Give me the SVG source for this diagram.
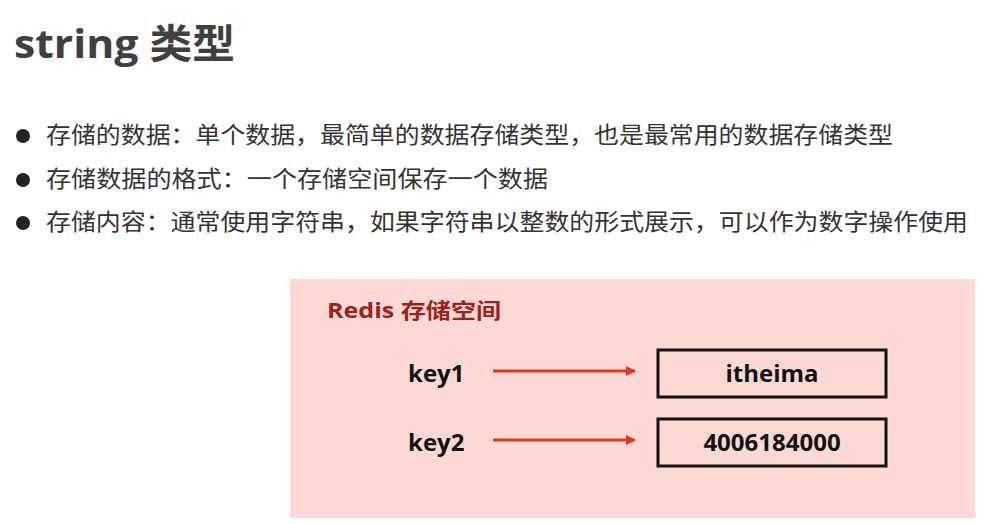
<svg xmlns="http://www.w3.org/2000/svg" width="992" height="524" viewBox="0 0 992 524">
<style>
.t{font-family:"Open Sans","Noto Sans CJK SC",sans-serif}
.b{font-family:"Noto Sans CJK SC","Noto Sans",sans-serif;font-size:23px;fill:#333}
.k{font-family:"Open Sans","Noto Sans CJK SC",sans-serif;font-weight:bold;font-size:24px;fill:#111}
.box{fill:none;stroke:#111;stroke-width:3}
.ar{stroke:#e8341c;stroke-width:3;fill:none;marker-end:url(#m)}
</style>
<defs><marker id="m" markerWidth="10" markerHeight="10" refX="9" refY="5" orient="auto" markerUnits="userSpaceOnUse"><path d="M0,0 L10,5 L0,10 Z" fill="#e8341c"/></marker></defs>
<rect width="992" height="524" fill="#fff"/>
<text x="14" y="58" class="t" font-size="40" font-weight="bold" fill="#404040" textLength="221" lengthAdjust="spacingAndGlyphs">string 类型</text>
<g fill="#222"><circle cx="23" cy="136" r="7"/><circle cx="23" cy="180" r="7"/><circle cx="23" cy="223" r="7"/></g>
<text x="46" y="143" class="b" textLength="847" lengthAdjust="spacingAndGlyphs">存储的数据：单个数据，最简单的数据存储类型，也是最常用的数据存储类型</text>
<text x="46" y="187" class="b" textLength="502" lengthAdjust="spacingAndGlyphs">存储数据的格式：一个存储空间保存一个数据</text>
<text x="46" y="230" class="b" textLength="922" lengthAdjust="spacingAndGlyphs">存储内容：通常使用字符串，如果字符串以整数的形式展示，可以作为数字操作使用</text>
<g id="panel"><rect x="290" y="279" width="685" height="239" fill="#fcd9d5"/>
<text x="327" y="318" class="t" font-size="21" font-weight="bold" fill="#a0201a" textLength="174" lengthAdjust="spacingAndGlyphs">Redis 存储空间</text></g>
<g id="key1"><text x="408" y="382" class="k">key1</text></g>
<g id="key2"><text x="408" y="451" class="k">key2</text></g>
<g id="v1"><rect x="658" y="350" width="228" height="47" class="box"/><text x="772" y="382" class="k" text-anchor="middle">itheima</text></g>
<g id="v2"><rect x="658" y="419" width="228" height="47" class="box"/><text x="772" y="451" class="k" text-anchor="middle">4006184000</text></g>
<g id="connectors"><line x1="493" y1="371" x2="635" y2="371" class="ar"/><line x1="493" y1="440" x2="635" y2="440" class="ar"/></g>
</svg>
